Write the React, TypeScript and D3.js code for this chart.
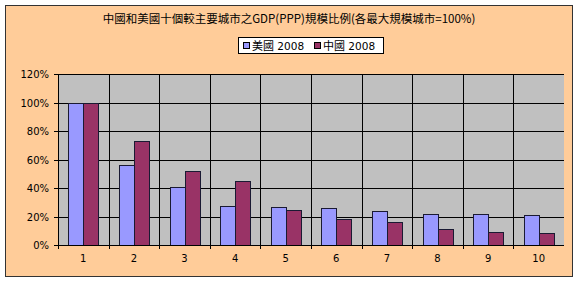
import React from "react";
import * as d3 from "d3";

const categories = ["1", "2", "3", "4", "5", "6", "7", "8", "9", "10"];
const seriesNames = ["美國 2008", "中國 2008"];
const usValues = [1.0, 0.56, 0.41, 0.275, 0.267, 0.258, 0.239, 0.218, 0.218, 0.21];
const cnValues = [1.0, 0.73, 0.52, 0.45, 0.246, 0.182, 0.164, 0.112, 0.091, 0.084];
const yTicks = [0, 0.2, 0.4, 0.6, 0.8, 1.0, 1.2];
const title = "中國和美國十個較主要城市之GDP(PPP)規模比例(各最大規模城市=100%)";
const colors = ["#9999FF", "#993366"];

export default function App() {
  const W = 581, H = 284;
  const left = 58, right = 564, top = 74, bottom = 245;
  const x0 = d3.scaleBand<string>().domain(categories).range([left, right]).paddingInner(0).paddingOuter(0);
  const x1 = d3.scaleBand<string>().domain(seriesNames).range([0, x0.bandwidth()]).paddingInner(0).paddingOuter(0.687);
  const y = d3.scaleLinear().domain([0, 1.2]).range([bottom, top]);
  const fmt = d3.format(".0%");
  const data = [usValues, cnValues];
  const cjk = "'Noto Sans CJK TC', 'Noto Sans CJK SC', sans-serif";
  const num = "'DejaVu Sans', Verdana, sans-serif";
  return (
    <svg width={W} height={H} style={{ position: "absolute", left: 0, top: 0 }}>
      <rect x={0} y={0} width={W} height={H} fill="#fff" />
      <rect x={5.5} y={5.5} width={567} height={271} fill="#FFCC99" stroke="#333" strokeWidth={1} />
      <text x={289} y={23} textAnchor="middle" fontFamily={cjk} fontSize={11.5} fill="#000">{title}</text>
      <g>
        <rect x={238.5} y={37.5} width={145} height={16} fill="#fff" stroke="#000" />
        {seriesNames.map((s, i) => {
          const lx = 243 + i * 71;
          return (
            <g key={s}>
              <rect x={lx + 0.5} y={42.5} width={6} height={6} fill={colors[i]} stroke="#000" />
              <text x={lx + 9} y={50} fontFamily={cjk} fontSize={11} fill="#000">
                <tspan>{s.split(" ")[0]}</tspan>
                <tspan fontFamily={num} fontSize={10.5}>{" " + s.split(" ")[1]}</tspan>
              </text>
            </g>
          );
        })}
      </g>
      <rect x={left} y={top} width={right - left} height={bottom - top} fill="#C0C0C0" />
      {yTicks.map((t) => (
        <g key={t}>
          <line x1={left - 4} x2={right} y1={Math.round(y(t)) + 0.5} y2={Math.round(y(t)) + 0.5} stroke="#000" />
          <text x={49} y={y(t) + 4} textAnchor="end" fontFamily={num} fontSize={10} fill="#000">{fmt(t)}</text>
        </g>
      ))}
      {categories.map((c) => (
        <line key={c} x1={Math.round(x0(c)!) + 0.5} x2={Math.round(x0(c)!) + 0.5} y1={top} y2={bottom + 4} stroke="#000" />
      ))}
      {categories.map((c, ci) => (
        <g key={"b" + c}>
          {seriesNames.map((s, si) => {
            const bx = x0(c)! + x1(s)!;
            const v = data[si][ci];
            return (
              <rect key={s} x={Math.round(bx) + 0.5} y={Math.round(y(v)) + 0.5} width={Math.round(x1.bandwidth())}
                height={Math.round(y(0)) - Math.round(y(v))} fill={colors[si]} stroke="#1a1a33" strokeWidth={1} />
            );
          })}
          <text x={x0(c)! + x0.bandwidth() / 2} y={262} textAnchor="middle" fontFamily={num} fontSize={10} fill="#000">{c}</text>
        </g>
      ))}
      <line x1={left} x2={right} y1={bottom + 0.5} y2={bottom + 0.5} stroke="#000" />
    </svg>
  );
}
